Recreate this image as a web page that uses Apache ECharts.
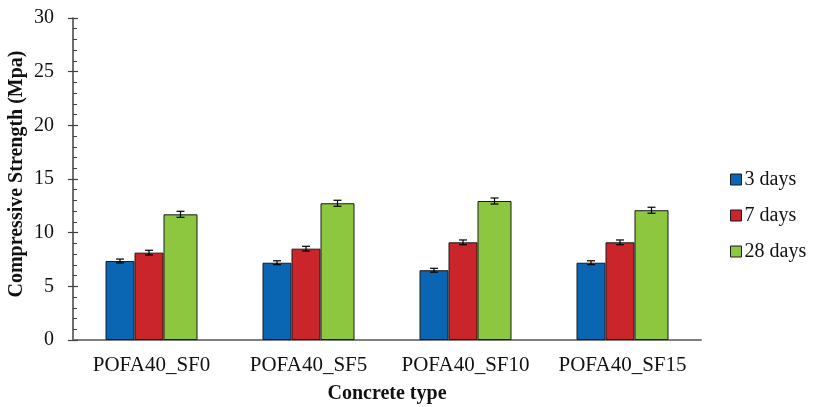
<!DOCTYPE html>
<html><head><meta charset="utf-8">
<script src="https://cdn.jsdelivr.net/npm/echarts@6/dist/echarts.min.js"></script>
<style>html,body{margin:0;padding:0;background:#fff}#c{width:815px;height:407px}</style>
</head><body><div id="c"></div>
<script>
const categories = ['POFA40_SF0','POFA40_SF5','POFA40_SF10','POFA40_SF15'];
const seriesNames = ['3 days','7 days','28 days'];
const days3 = [7.36, 7.2, 6.5, 7.2];
const days7 = [8.14, 8.51, 9.1, 9.1];
const days28 = [11.71, 12.74, 12.95, 12.09];
const err3 = [0.18, 0.18, 0.18, 0.18];
const err7 = [0.22, 0.22, 0.22, 0.22];
const err28 = [0.28, 0.28, 0.28, 0.28];
const yTicks = [0, 5, 10, 15, 20, 25, 30];

const values = [days3, days7, days28];
const errs = [err3, err7, err28];
const colors = ['#0A66B2', '#C9252B', '#8DC63F'];
const barWidths = [29, 29, 34];
const totalW = barWidths.reduce((a, b) => a + b, 0);
const offsets = barWidths.map((w, i) => -totalW / 2 + barWidths.slice(0, i).reduce((a, b) => a + b, 0) + w / 2);
const font = '"Liberation Serif","Times New Roman",serif';

const series = [];
values.forEach((v, i) => {
  series.push({
    name: seriesNames[i], type: 'bar', data: v, barWidth: barWidths[i], barGap: '0%',
    itemStyle: { color: colors[i], borderColor: '#1a1a1a', borderWidth: 1 }
  });
});
values.forEach((v, i) => {
  series.push({
    type: 'custom', silent: true, z: 5,
    data: v.map((val, j) => [j, val - errs[i][j], val + errs[i][j]]),
    renderItem: function (params, api) {
      const lo = api.coord([api.value(0), api.value(1)]);
      const hi = api.coord([api.value(0), api.value(2)]);
      const x = lo[0] + offsets[i];
      const cw = 4;
      const st = { stroke: '#000', lineWidth: 1.2 };
      return { type: 'group', children: [
        { type: 'line', shape: { x1: x, y1: lo[1], x2: x, y2: hi[1] }, style: st },
        { type: 'line', shape: { x1: x - cw, y1: lo[1], x2: x + cw, y2: lo[1] }, style: st },
        { type: 'line', shape: { x1: x - cw, y1: hi[1], x2: x + cw, y2: hi[1] }, style: st }
      ]};
    }
  });
});

const chart = echarts.init(document.getElementById('c'));
chart.setOption({
  animation: false,
  textStyle: { fontFamily: font },
  grid: { left: 73, right: 114, top: 18, bottom: 67, containLabel: false, outerBoundsMode: 'none' },
  legend: {
    orient: 'vertical', left: 725, top: 164, itemWidth: 11, itemHeight: 11, itemGap: 15,
    icon: 'rect',
    data: seriesNames,
    itemStyle: { borderColor: '#1a1a1a', borderWidth: 1 },
    textStyle: { fontFamily: font, fontSize: 20, color: '#111', lineHeight: 21, padding: [0, 0, 0, -2] }
  },
  xAxis: {
    type: 'category', data: categories,
    name: 'Concrete type', nameLocation: 'middle', nameGap: 44, nameMoveOverlap: false,
    nameTextStyle: { fontFamily: font, fontSize: 20, fontWeight: 'bold', color: '#111' },
    axisLine: { lineStyle: { color: '#7f7f7f', width: 2 } },
    axisTick: { show: false },
    axisLabel: { fontFamily: font, fontSize: 21, color: '#111', margin: 15, interval: 0, hideOverlap: false }
  },
  yAxis: [{
    type: 'value', min: yTicks[0], max: yTicks[yTicks.length - 1], interval: 5,
    name: 'Compressive Strength (Mpa)', nameLocation: 'middle', nameGap: 46, nameMoveOverlap: false,
    nameTextStyle: { fontFamily: font, fontSize: 20, fontWeight: 'bold', color: '#111', padding: [0, 0, 0, 10] },
    axisLine: { show: true, lineStyle: { color: '#404040', width: 1.5 } },
    axisTick: { show: true, inside: true, length: 5, lineStyle: { color: '#404040', width: 1.2 } },
    minorTick: { show: true, splitNumber: 5, length: 4, lineStyle: { color: '#404040', width: 1 } },
    splitLine: { show: false },
    axisLabel: { fontFamily: font, fontSize: 20, color: '#111', margin: 19 }
  }, {
    type: 'value', position: 'left', offset: 0, min: yTicks[0], max: yTicks[yTicks.length - 1], interval: 5,
    axisLine: { show: false },
    axisTick: { show: true, inside: false, length: 5, lineStyle: { color: '#404040', width: 1.2 } },
    axisLabel: { show: false }, splitLine: { show: false }
  }],
  series: series
});
</script></body></html>
